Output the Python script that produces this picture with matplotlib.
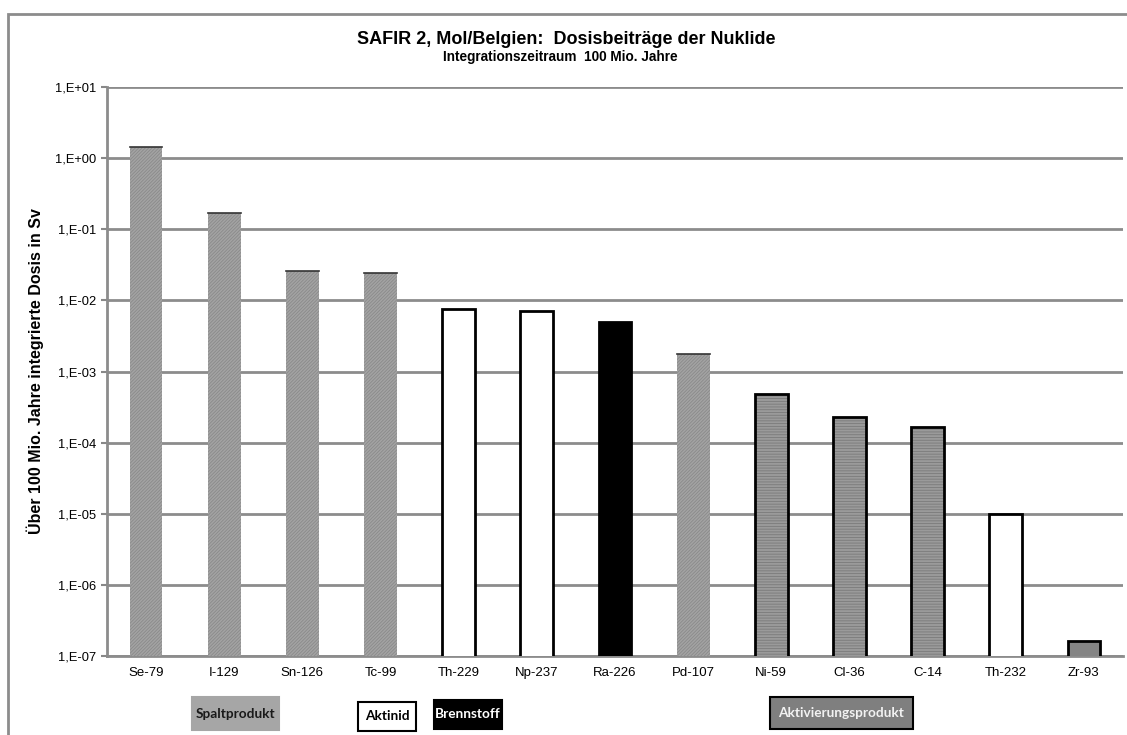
import matplotlib
matplotlib.use("Agg")
import matplotlib.pyplot as plt
import matplotlib.patches as mpatches
import numpy as np

nuclides = ["Se-79", "I-129", "Sn-126", "Tc-99", "Th-229", "Np-237", "Ra-226",
            "Pd-107", "Ni-59", "Cl-36", "C-14", "Th-232", "Zr-93"]
dose = [1.42, 0.169, 0.0258, 0.0245, 0.0075, 0.0071, 0.00495,
        0.00176, 4.9e-4, 2.3e-4, 1.65e-4, 1.0e-5, 1.63e-7]
kind = ["spalt", "spalt", "spalt", "spalt", "aktinid", "aktinid", "brenn",
        "spalt", "aktiv", "aktiv", "aktiv", "aktinid", "zr"]
yticks = [1e-7, 1e-6, 1e-5, 1e-4, 1e-3, 1e-2, 1e-1, 1e0, 1e1]
ylabels = ["1,E-07", "1,E-06", "1,E-05", "1,E-04", "1,E-03", "1,E-02",
           "1,E-01", "1,E+00", "1,E+01"]
legend_names = ["Spaltprodukt", "Aktinid", "Brennstoff", "Aktivierungsprodukt"]

plt.rcParams["font.family"] = ["Liberation Sans", "DejaVu Sans"]
plt.rcParams["hatch.linewidth"] = 0.6

W, H = 1127, 735

# fill, hatch, hatch colour, edge colour
styles = {
    "spalt": ("#a3a3a3", "//////////", "#8a8a8a", None),
    "aktinid": ("white", None, None, "black"),
    "brenn": ("black", None, None, "black"),
    "aktiv": ("#9a9a9a", "------", "#7a7a7a", "black"),
    "zr": ("#848484", None, None, "black"),
}

fig = plt.figure(figsize=(W / 100, H / 100), dpi=100)
ax = fig.add_axes([107 / W, 1 - 656 / H, 1016 / W, 569 / H])

x = np.arange(len(nuclides))
w = 0.42
for xi, v, k in zip(x, dose, kind):
    fc, hatch, hc, ec = styles[k]
    if hatch:
        ax.bar(xi, v, width=w, color=fc, hatch=hatch, edgecolor=hc,
               linewidth=0, zorder=3)
        ax.bar(xi, v, width=w, color="none",
               edgecolor=ec if ec else "#555555",
               linewidth=2 if ec else 0, zorder=4)
        if not ec:
            ax.plot([xi - w / 2, xi + w / 2], [v, v], color="#333333",
                    lw=1.2, zorder=5)
    else:
        ax.bar(xi, v, width=w, color=fc, edgecolor=ec, linewidth=2, zorder=3)

ax.set_yscale("log")
ax.set_ylim(1e-7, 1e1)
ax.set_xlim(-0.5, len(nuclides) - 0.5)
ax.set_yticks(yticks)
ax.set_yticklabels(ylabels)
ax.yaxis.set_minor_locator(matplotlib.ticker.NullLocator())
ax.set_xticks(x)
ax.set_xticklabels(nuclides)
ax.tick_params(axis="x", length=0, pad=8, labelsize=9.5)
ax.tick_params(axis="y", length=4, width=1.5, color="#888888", pad=4,
               labelsize=9.3)
ax.grid(axis="y", color="#8c8c8c", lw=2, zorder=1)
for s in ["top", "right"]:
    ax.spines[s].set_visible(False)
for s in ["left", "bottom"]:
    ax.spines[s].set_color("#8c8c8c")
    ax.spines[s].set_linewidth(2)

ax.set_ylabel("Über 100 Mio. Jahre integrierte Dosis in Sv", fontsize=11.5,
              fontweight="bold", labelpad=8)

fig.text(566 / W, 1 - 40 / H, "SAFIR 2, Mol/Belgien:  Dosisbeiträge der Nuklide",
         ha="center", va="center", fontsize=13, fontweight="bold")
fig.text(560 / W, 1 - 57 / H, "Integrationszeitraum  100 Mio. Jahre",
         ha="center", va="center", fontsize=9.8, fontweight="bold")

# category boxes below the axis (pixel extents: x0, x1, y0, y1)
box_px = [(192, 279, 697, 730), (358, 416, 702, 731),
          (434, 502, 700, 729), (770, 913, 697, 729)]
box_fc = ["#a6a6a6", "white", "black", "#7f7f7f"]
box_ec = ["#a6a6a6", "black", "black", "black"]
box_tc = ["#1a1a1a", "black", "white", "#f2f2f2"]
for name, (x0, x1, y0, y1), fc, ec, tc in zip(legend_names, box_px, box_fc,
                                              box_ec, box_tc):
    fig.add_artist(mpatches.Rectangle((x0 / W, 1 - y1 / H), (x1 - x0) / W,
                                      (y1 - y0) / H, transform=fig.transFigure,
                                      fc=fc, ec=ec, lw=1.5))
    fig.text((x0 + x1) / 2 / W, 1 - (y0 + y1) / 2 / H, name, ha="center",
             va="center", fontsize=9.8, fontweight="bold", color=tc,
             family=["Lato", "DejaVu Sans"])

# chart area frame
frame = mpatches.Rectangle((8 / W, -0.1), 1.2, 1.1 - 14 / H,
                           transform=fig.transFigure, fill=False,
                           edgecolor="#8c8c8c", lw=2, clip_on=False)
fig.add_artist(frame)

fig.savefig("out.png", dpi=100)
